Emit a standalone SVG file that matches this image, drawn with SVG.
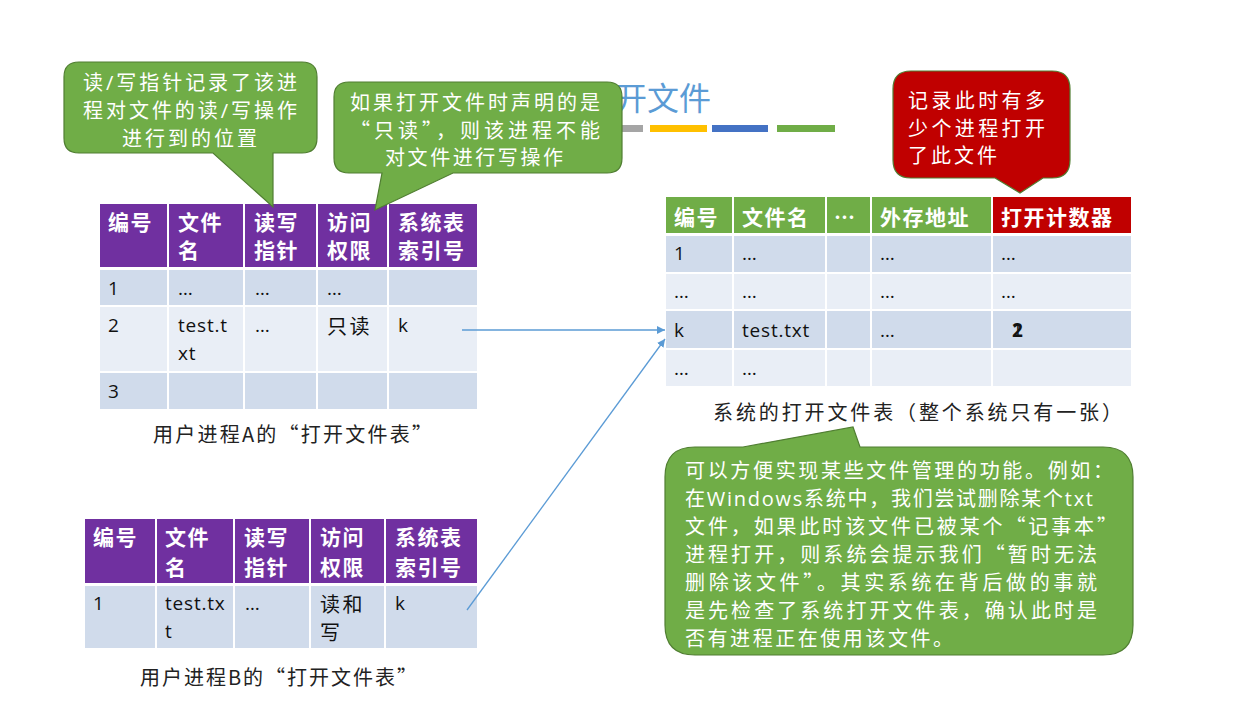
<svg xmlns="http://www.w3.org/2000/svg" width="1250" height="702" viewBox="0 0 1250 702">
<defs>
<style>
.hd{font-family:"Noto Sans CJK SC",sans-serif;font-weight:bold;font-size:21px;fill:#fff;letter-spacing:1.5px}
.td{font-family:"Open Sans","Noto Sans CJK SC",sans-serif;font-size:19px;fill:#111;letter-spacing:0.8px}
.tc{font-family:"Noto Sans CJK SC",sans-serif;font-size:20px;fill:#111;letter-spacing:2.5px}
.cl{font-family:"Open Sans","Noto Sans CJK SC",sans-serif;font-size:20px;fill:#fff}
.cj{font-family:"Noto Sans CJK SC",sans-serif;font-size:20px;fill:#fff}
.cap{font-family:"Noto Sans CJK SC",sans-serif;font-size:20px;fill:#222}
.cell{stroke:#fff;stroke-width:2}
.hp{fill:#7030A0}
.hg{fill:#70AD47}
.hr{fill:#C00000}
.dk{fill:#D0DBEB}
.lt{fill:#E9EEF6}
.gc{fill:#70AD47;stroke:#507E32;stroke-width:1.2}
.rc{fill:#C00000;stroke:#507E32;stroke-width:1.2}
.conn{stroke:#5B9BD5;stroke-width:1.3;fill:none}
</style>
<marker id="ah" viewBox="0 0 10 10" refX="10" refY="5" markerWidth="8" markerHeight="8" orient="auto" markerUnits="userSpaceOnUse">
<path d="M0,0 L10,5 L0,10 Z" fill="#5B9BD5"/>
</marker>
</defs>
<rect width="1250" height="702" fill="#fff"/>

<g id="title">
<text x="583" y="110" font-family="Noto Sans CJK SC,sans-serif" font-size="32" fill="#5B9BD5">打开文件</text>
<rect x="587" y="125" width="56" height="7" fill="#A5A5A5"/>
<rect x="650" y="125" width="57" height="7" fill="#FFC000"/>
<rect x="712" y="125" width="56" height="7" fill="#4472C4"/>
<rect x="777" y="125" width="58" height="7" fill="#70AD47"/>
</g>

<g id="tableA">
<rect class="cell hp" x="99" y="203" width="69" height="65"/>
<rect class="cell hp" x="168" y="203" width="76" height="65"/>
<rect class="cell hp" x="244" y="203" width="73" height="65"/>
<rect class="cell hp" x="317" y="203" width="71" height="65"/>
<rect class="cell hp" x="388" y="203" width="90" height="65"/>
<rect class="cell dk" x="99" y="269" width="69" height="37"/>
<rect class="cell dk" x="168" y="269" width="76" height="37"/>
<rect class="cell dk" x="244" y="269" width="73" height="37"/>
<rect class="cell dk" x="317" y="269" width="71" height="37"/>
<rect class="cell dk" x="388" y="269" width="90" height="37"/>
<rect class="cell lt" x="99" y="306" width="69" height="66"/>
<rect class="cell lt" x="168" y="306" width="76" height="66"/>
<rect class="cell lt" x="244" y="306" width="73" height="66"/>
<rect class="cell lt" x="317" y="306" width="71" height="66"/>
<rect class="cell lt" x="388" y="306" width="90" height="66"/>
<rect class="cell dk" x="99" y="372" width="69" height="38"/>
<rect class="cell dk" x="168" y="372" width="76" height="38"/>
<rect class="cell dk" x="244" y="372" width="73" height="38"/>
<rect class="cell dk" x="317" y="372" width="71" height="38"/>
<rect class="cell dk" x="388" y="372" width="90" height="38"/>
<text class="hd" x="108" y="230">编号</text>
<text class="hd" x="178" y="230">文件</text><text class="hd" x="178" y="258">名</text>
<text class="hd" x="254" y="230">读写</text><text class="hd" x="254" y="258">指针</text>
<text class="hd" x="327" y="230">访问</text><text class="hd" x="327" y="258">权限</text>
<text class="hd" x="398" y="230">系统表</text><text class="hd" x="398" y="258">索引号</text>
<text class="td" x="108" y="295">1</text>
<text class="td" x="178" y="295">…</text>
<text class="td" x="255" y="295">…</text>
<text class="td" x="327" y="295">…</text>
<text class="td" x="108" y="332">2</text>
<text class="td" x="178" y="332">test.t</text><text class="td" x="178" y="360">xt</text>
<text class="td" x="255" y="332">…</text>
<text class="tc" x="327" y="334">只读</text>
<text class="td" x="398" y="332">k</text>
<text class="td" x="108" y="398">3</text>
<text class="cap" x="153" y="442" textLength="279" lengthAdjust="spacing">用户进程A的“打开文件表”</text>
</g>

<g id="tableB">
<rect class="cell hp" x="84" y="518" width="72" height="66"/>
<rect class="cell hp" x="156" y="518" width="78" height="66"/>
<rect class="cell hp" x="234" y="518" width="76" height="66"/>
<rect class="cell hp" x="310" y="518" width="75" height="66"/>
<rect class="cell hp" x="385" y="518" width="93" height="66"/>
<rect class="cell dk" x="84" y="585" width="72" height="64"/>
<rect class="cell dk" x="156" y="585" width="78" height="64"/>
<rect class="cell dk" x="234" y="585" width="76" height="64"/>
<rect class="cell dk" x="310" y="585" width="75" height="64"/>
<rect class="cell dk" x="385" y="585" width="93" height="64"/>
<text class="hd" x="93" y="545">编号</text>
<text class="hd" x="165" y="545">文件</text><text class="hd" x="165" y="575">名</text>
<text class="hd" x="244" y="545">读写</text><text class="hd" x="244" y="575">指针</text>
<text class="hd" x="320" y="545">访问</text><text class="hd" x="320" y="575">权限</text>
<text class="hd" x="395" y="545">系统表</text><text class="hd" x="395" y="575">索引号</text>
<text class="td" x="93" y="610">1</text>
<text class="td" x="165" y="610">test.tx</text><text class="td" x="165" y="638">t</text>
<text class="td" x="245" y="610">…</text>
<text class="tc" x="320" y="612">读和</text><text class="tc" x="320" y="640">写</text>
<text class="td" x="395" y="610">k</text>
<text class="cap" x="140" y="685" textLength="277" lengthAdjust="spacing">用户进程B的“打开文件表”</text>
</g>

<g id="sysTable">
<rect class="cell hg" x="665" y="196" width="68" height="38"/>
<rect class="cell hg" x="733" y="196" width="93" height="38"/>
<rect class="cell hg" x="826" y="196" width="45" height="38"/>
<rect class="cell hg" x="871" y="196" width="121" height="38"/>
<rect class="cell hr" x="992" y="196" width="140" height="38"/>
<rect class="cell dk" x="665" y="235" width="68" height="38"/>
<rect class="cell dk" x="733" y="235" width="93" height="38"/>
<rect class="cell dk" x="826" y="235" width="45" height="38"/>
<rect class="cell dk" x="871" y="235" width="121" height="38"/>
<rect class="cell dk" x="992" y="235" width="140" height="38"/>
<rect class="cell lt" x="665" y="273" width="68" height="37"/>
<rect class="cell lt" x="733" y="273" width="93" height="37"/>
<rect class="cell lt" x="826" y="273" width="45" height="37"/>
<rect class="cell lt" x="871" y="273" width="121" height="37"/>
<rect class="cell lt" x="992" y="273" width="140" height="37"/>
<rect class="cell dk" x="665" y="310" width="68" height="39"/>
<rect class="cell dk" x="733" y="310" width="93" height="39"/>
<rect class="cell dk" x="826" y="310" width="45" height="39"/>
<rect class="cell dk" x="871" y="310" width="121" height="39"/>
<rect class="cell dk" x="992" y="310" width="140" height="39"/>
<rect class="cell lt" x="665" y="349" width="68" height="38"/>
<rect class="cell lt" x="733" y="349" width="93" height="38"/>
<rect class="cell lt" x="826" y="349" width="45" height="38"/>
<rect class="cell lt" x="871" y="349" width="121" height="38"/>
<rect class="cell lt" x="992" y="349" width="140" height="38"/>
<text class="hd" x="674" y="225">编号</text>
<text class="hd" x="742" y="225">文件名</text>
<text class="hd" x="834" y="225" letter-spacing="0">…</text>
<text class="hd" x="880" y="225">外存地址</text>
<text class="hd" x="1001" y="225">打开计数器</text>
<text class="td" x="674" y="260">1</text>
<text class="td" x="742" y="260">…</text>
<text class="td" x="880" y="260">…</text>
<text class="td" x="1001" y="260">…</text>
<text class="td" x="674" y="298">…</text>
<text class="td" x="742" y="298">…</text>
<text class="td" x="880" y="298">…</text>
<text class="td" x="1001" y="298">…</text>
<text class="td" x="674" y="337">k</text>
<text class="td" x="742" y="337">test.txt</text>
<text class="td" x="880" y="337">…</text>
<text class="td" x="1012" y="337" font-weight="bold">2</text>
<text class="td" x="1012" y="337">1</text>
<text class="td" x="674" y="375">…</text>
<text class="td" x="742" y="375">…</text>
<text class="cap" x="713" y="420" textLength="409" lengthAdjust="spacing">系统的打开文件表（整个系统只有一张）</text>
</g>

<g id="connectors">
<line class="conn" x1="462" y1="330" x2="665" y2="330" marker-end="url(#ah)"/>
<line class="conn" x1="467" y1="610" x2="665" y2="339" marker-end="url(#ah)"/>
</g>

<g id="callout1">
<path class="gc" d="M79,62 H302 Q317,62 317,77 V138 Q317,153 302,153 H273 V207 L213,153 H79 Q64,153 64,138 V77 Q64,62 79,62 Z"/>
<text class="cl" x="83" y="90" textLength="214" lengthAdjust="spacing">读/写指针记录了该进</text>
<text class="cl" x="83" y="118" textLength="214" lengthAdjust="spacing">程对文件的读/写操作</text>
<text class="cl" x="122" y="146" textLength="135" lengthAdjust="spacing">进行到的位置</text>
</g>

<g id="callout2">
<path class="gc" d="M349,82 H607 Q622,82 622,97 V158 Q622,173 607,173 H453 L375,210 L382,173 H349 Q334,173 334,158 V97 Q334,82 349,82 Z"/>
<text class="cj" x="350" y="110" textLength="250" lengthAdjust="spacing">如果打开文件时声明的是</text>
<text class="cj" x="350" y="138" textLength="250" lengthAdjust="spacing">“只读”，则该进程不能</text>
<text class="cj" x="385" y="165" textLength="178" lengthAdjust="spacing">对文件进行写操作</text>
</g>

<g id="callout3">
<path class="rc" d="M911,71 H1052 Q1070,71 1070,89 V160 Q1070,178 1052,178 H1043 L1020,193 L995,178 H911 Q893,178 893,160 V89 Q893,71 911,71 Z"/>
<text class="cj" x="908" y="108" textLength="137" lengthAdjust="spacing">记录此时有多</text>
<text class="cj" x="908" y="136" textLength="137" lengthAdjust="spacing">少个进程打开</text>
<text class="cj" x="908" y="163" textLength="89" lengthAdjust="spacing">了此文件</text>
</g>

<g id="callout4">
<path class="gc" d="M695,447 H743 L853,427 L860,447 H1103 Q1133,447 1133,477 V625 Q1133,655 1103,655 H695 Q665,655 665,625 V477 Q665,447 695,447 Z"/>
<text class="cj" x="685" y="478" textLength="428" lengthAdjust="spacing">可以方便实现某些文件管理的功能。例如：</text>
<text class="cl" x="685" y="506" textLength="408" lengthAdjust="spacing">在Windows系统中，我们尝试删除某个txt</text>
<text class="cj" x="685" y="534" textLength="432" lengthAdjust="spacing">文件，如果此时该文件已被某个“记事本”</text>
<text class="cj" x="685" y="562" textLength="412" lengthAdjust="spacing">进程打开，则系统会提示我们“暂时无法</text>
<text class="cj" x="685" y="590" textLength="412" lengthAdjust="spacing">删除该文件”。其实系统在背后做的事就</text>
<text class="cj" x="685" y="618" textLength="412" lengthAdjust="spacing">是先检查了系统打开文件表，确认此时是</text>
<text class="cj" x="685" y="646" textLength="268" lengthAdjust="spacing">否有进程正在使用该文件。</text>
</g>
</svg>
